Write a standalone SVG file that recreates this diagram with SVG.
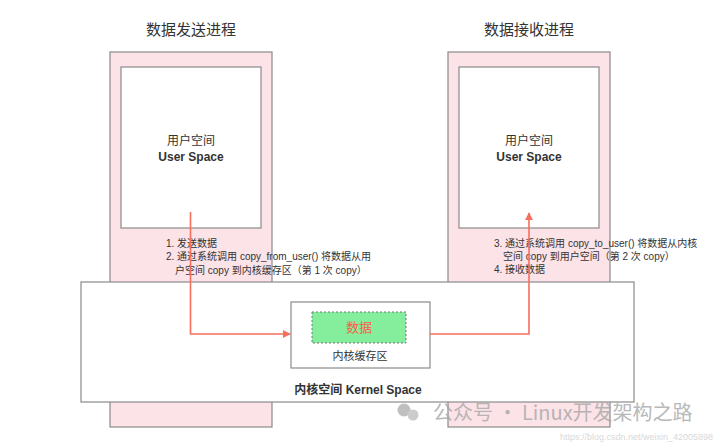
<svg xmlns="http://www.w3.org/2000/svg" width="720" height="446" viewBox="0 0 720 446">
<defs>
<style>
.proc{fill:#fce3e8;stroke:#8a8a8a;stroke-width:1.2}
.box{fill:#ffffff;stroke:#8a8a8a;stroke-width:1.2}
.t{font-family:"Liberation Sans","Noto Sans CJK SC",sans-serif;fill:#333333}
.title{font-size:15px;text-anchor:middle}
.us{font-size:12px;font-weight:bold;text-anchor:middle}
.cn{font-size:12px;text-anchor:middle}
.note{font-size:10px}
.wire{fill:none;stroke:#f66e5c;stroke-width:1.6}
</style>
<marker id="ah" viewBox="0 0 10 10" refX="9" refY="5" markerWidth="8" markerHeight="8" markerUnits="userSpaceOnUse" orient="auto">
<path d="M0,0 L10,5 L0,10 z" fill="#f66e5c"/>
</marker>
</defs>
<rect width="720" height="446" fill="#ffffff"/>

<g id="sender">
<text class="t title" x="191" y="35">数据发送进程</text>
<rect class="proc" x="110" y="52" width="162" height="375"/>
</g>
<g id="receiver">
<text class="t title" x="529" y="35">数据接收进程</text>
<rect class="proc" x="448" y="52" width="162" height="375"/>
</g>
<g id="sender-user">
<rect class="box" x="121" y="67" width="140" height="161"/>
<text class="t cn" x="191" y="145">用户空间</text>
<text class="t us" x="191" y="161">User Space</text>
</g>
<g id="receiver-user">
<rect class="box" x="459" y="67" width="140" height="161"/>
<text class="t cn" x="529" y="145">用户空间</text>
<text class="t us" x="529" y="161">User Space</text>
</g>
<g id="send-notes">
<text class="t note" x="166" y="247">1. 发送数据</text>
<text class="t note" x="166" y="260">2. 通过系统调用 copy_from_user() 将数据从用</text>
<text class="t note" x="175" y="274">户空间 copy 到内核缓存区（第 1 次 copy）</text>
</g>
<g id="recv-notes">
<text class="t note" x="494" y="247">3. 通过系统调用 copy_to_user() 将数据从内核</text>
<text class="t note" x="503" y="260">空间 copy 到用户空间（第 2 次 copy）</text>
<text class="t note" x="494" y="273">4. 接收数据</text>
</g>
<g id="kernel">
<rect class="box" x="81" y="282" width="553" height="120"/>
<text class="t us" x="358" y="394">内核空间 Kernel Space</text>
</g>
<g id="buffer">
<rect class="box" x="291" y="302" width="139" height="66"/>
<rect x="312" y="312" width="94" height="31" fill="#84ee9c" stroke="#777777" stroke-width="1" stroke-dasharray="2,2"/>
<text class="t" x="359" y="332" font-size="13" text-anchor="middle" style="fill:#f5604d">数据</text>
<text class="t" x="360" y="360" font-size="11" text-anchor="middle">内核缓存区</text>
</g>
<g id="connectors">
<path class="wire" d="M190.5,212 V334 H290" marker-end="url(#ah)"/>
<path class="wire" d="M430,334 H529 V213" marker-end="url(#ah)"/>
</g>
<g id="watermark" opacity="0.8">
<circle cx="404" cy="410" r="6.5" fill="#b0b0b0"/>
<circle cx="413" cy="415" r="5.5" fill="#c0c0c0"/>
<text x="433" y="420" font-family="'Noto Sans CJK SC',sans-serif" font-size="20" fill="#a8a8a8">公众号 · Linux开发架构之路</text>
<text x="713" y="440" font-family="'Liberation Sans',sans-serif" font-size="9" fill="#d0d0d0" text-anchor="end">https://blog.csdn.net/weixin_42005898</text>
</g>
</svg>
